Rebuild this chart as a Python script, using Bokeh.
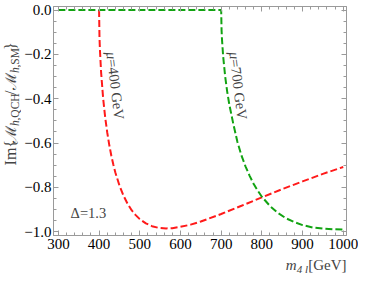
import math
from bokeh.plotting import figure
from bokeh.layouts import row, column
from bokeh.models import Range1d, SingleIntervalTicker, LinearAxis, Label, CustomJSTickFormatter
from bokeh.embed import file_html
from bokeh.resources import INLINE

# ---------------- data ----------------
m_red = [400, 401, 402, 405, 410, 415, 420, 425, 430, 435, 440, 450, 460, 470, 480, 490, 500,
         515, 530, 545, 565, 580, 600, 625, 650, 700, 750, 800, 850, 900, 950, 1000]
im_red = [0.0, -0.122, -0.176, -0.282, -0.399, -0.484, -0.552, -0.608, -0.656, -0.697, -0.733,
          -0.791, -0.837, -0.874, -0.903, -0.925, -0.943, -0.962, -0.975, -0.982, -0.985, -0.984,
          -0.978, -0.968, -0.954, -0.920, -0.883, -0.845, -0.808, -0.773, -0.739, -0.708]

m_green = [300, 700, 701, 702, 705, 710, 715, 720, 730, 740, 750, 760, 770, 780, 790, 800,
           820, 840, 860, 880, 900, 925, 950, 975, 1000]
im_green = [0.0, 0.0, -0.090, -0.131, -0.211, -0.302, -0.370, -0.426, -0.515, -0.595, -0.657,
            -0.706, -0.748, -0.785, -0.815, -0.842, -0.884, -0.916, -0.940, -0.957, -0.970,
            -0.981, -0.986, -0.989, -0.990]

label_red = "=400 GeV"
label_green = "=700 GeV"
label_delta = "Δ=1.3"

RED = "#ff1a1a"
GREEN = "#12a312"
GREY = "#9a9a9a"
SERIF = "Liberation Serif"

# ---------------- main plot ----------------
p = figure(width=337, height=255, output_backend="svg", toolbar_location=None,
           x_range=Range1d(288, 1008), y_range=Range1d(-1.017, 0.016),
           x_axis_type=None, y_axis_type=None,
           min_border_left=29, min_border_right=12, min_border_top=6, min_border_bottom=20)
p.outline_line_color = GREY
p.background_fill_color = "white"
p.border_fill_color = "white"


def style_axis(ax, show):
    ax.axis_line_color = GREY
    ax.major_tick_line_color = GREY
    ax.minor_tick_line_color = GREY
    ax.major_tick_in = 5
    ax.major_tick_out = 0
    ax.minor_tick_in = 3
    ax.minor_tick_out = 0
    ax.major_label_text_font = SERIF
    ax.major_label_text_color = "black"
    ax.major_label_standoff = 2
    if show:
        ax.major_label_text_font_size = "15px"
    else:
        ax.major_label_text_font_size = "0px"
        ax.formatter = CustomJSTickFormatter(code="return ''")


xb = LinearAxis(ticker=SingleIntervalTicker(interval=100, num_minor_ticks=5))
xt = LinearAxis(ticker=SingleIntervalTicker(interval=100, num_minor_ticks=5))
yl = LinearAxis(ticker=SingleIntervalTicker(interval=0.2, num_minor_ticks=4),
                formatter=CustomJSTickFormatter(
                    code="return (tick < -1e-9 ? '\\u2212' : '') + Math.abs(tick).toFixed(1);"))
yr = LinearAxis(ticker=SingleIntervalTicker(interval=0.2, num_minor_ticks=4))
style_axis(xb, True)
style_axis(yl, True)
style_axis(xt, False)
style_axis(yr, False)
xb.major_label_standoff = 3
p.add_layout(xb, "below")
p.add_layout(yl, "left")
p.add_layout(xt, "above")
p.add_layout(yr, "right")

p.line(m_red, im_red, line_color=RED, line_width=2, line_dash="7 3")
p.line(m_green, im_green, line_color=GREEN, line_width=2, line_dash="7 3")

ang = math.radians(-83)
for xa, txt in ((432.0, label_red), (734.0, label_green)):
    p.add_layout(Label(x=xa, y=-0.221, text="μ", angle=ang, text_align="right",
                       text_baseline="middle", text_font=SERIF, text_font_size="14.5px",
                       text_font_style="italic"))
    p.add_layout(Label(x=xa, y=-0.221, text=txt, angle=ang, text_align="left",
                       text_baseline="middle", text_font=SERIF, text_font_size="14.5px"))

p.add_layout(Label(x=330, y=-0.915, text=label_delta, text_align="left", text_baseline="middle",
                   text_font=SERIF, text_font_size="14.5px"))


def blank_fig(w, h):
    f = figure(width=w, height=h, output_backend="svg", toolbar_location=None,
               x_range=Range1d(0, w), y_range=Range1d(0, h), x_axis_type=None, y_axis_type=None,
               min_border=0, min_border_left=0, min_border_right=0, min_border_top=0,
               min_border_bottom=0)
    f.outline_line_color = None
    f.background_fill_color = "white"
    f.border_fill_color = "white"
    return f


# ---------------- y-axis title: Im{M_{h,QCH}/M_{h,SM}} ----------------
yf = blank_fig(21, 255)
ypieces = (("Im{", SERIF, "normal", "16px", 78.0, 10.0),
           ("ℳ", "DejaVu Serif", "normal", "15px", 103.5, 10.0),
           ("h", SERIF, "italic", "11.5px", 122.0, 14.5),
           (",QCH", SERIF, "normal", "11.5px", 128.0, 14.5),
           ("/", SERIF, "normal", "16px", 156.5, 10.0),
           ("ℳ", "DejaVu Serif", "normal", "15px", 162.5, 10.0),
           ("h", SERIF, "italic", "11.5px", 181.0, 14.5),
           (",SM", SERIF, "normal", "11.5px", 187.0, 14.5),
           ("}", SERIF, "normal", "16px", 206.5, 10.0))
for txt, font, style, size, along, mid in ypieces:
    yf.add_layout(Label(x=mid, y=along, text=txt, angle=math.pi / 2, text_align="left",
                        text_baseline="middle", text_font=font, text_font_style=style,
                        text_font_size=size))

# ---------------- x-axis title: m_{4 l}[GeV] ----------------
xf = blank_fig(358, 18)
for txt, style, size, xr, ym in (("[GeV]", "normal", "15px", 346.0, 9.0),
                                  ("4 l", "italic", "11px", 307.5, 5.0),
                                  ("m", "italic", "15px", 296.0, 9.0)):
    xf.add_layout(Label(x=xr, y=ym, text=txt, text_align="right", text_baseline="middle",
                        text_font=SERIF, text_font_style=style, text_font_size=size))

layout = column(row(yf, p, spacing=0), xf, spacing=0)
open("out.html", "w").write(file_html(layout, INLINE))
